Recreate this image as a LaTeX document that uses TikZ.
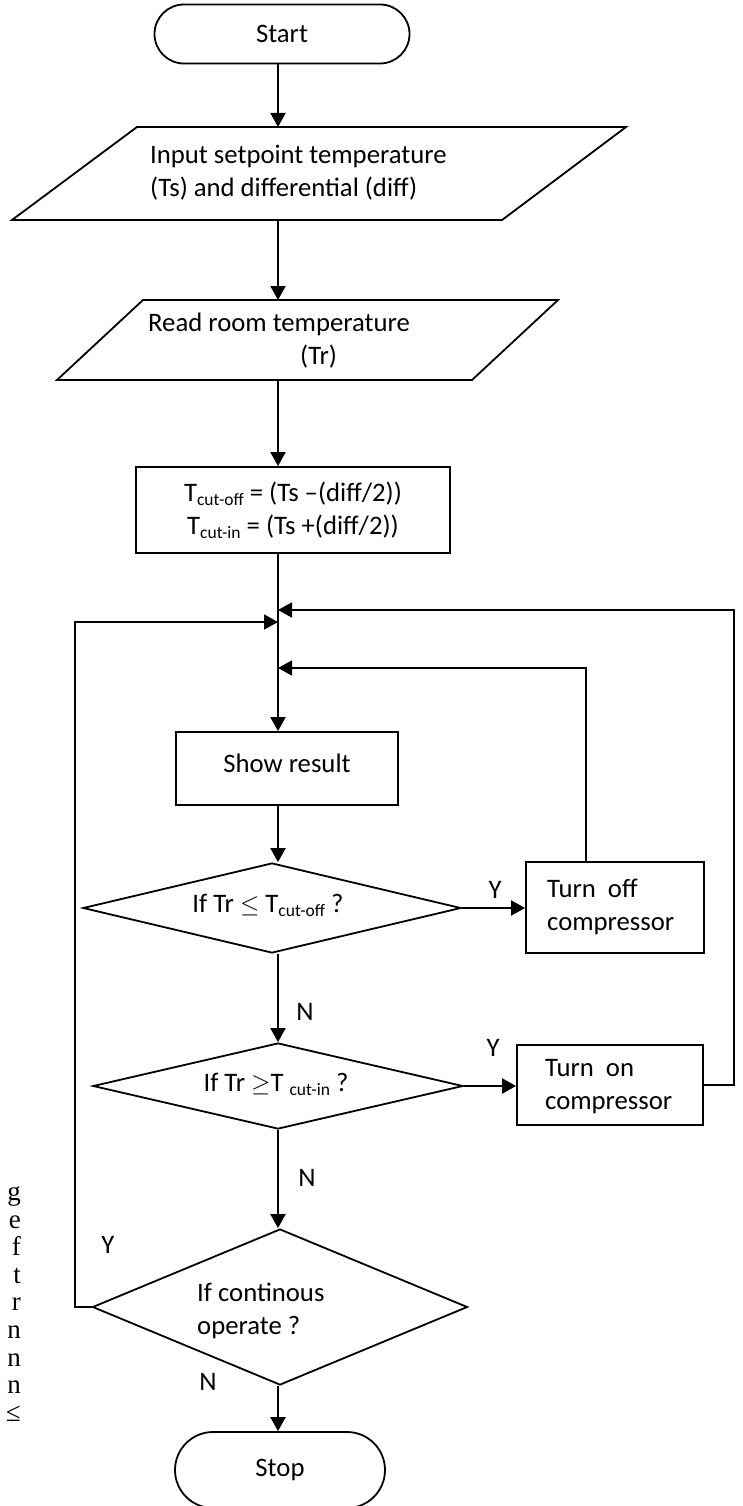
\documentclass[tikz,border=0pt]{standalone}
\usepackage{fontspec}
\setmainfont{Carlito}
\newfontfamily\edgefont{Liberation Serif}
\usetikzlibrary{shapes.geometric,shapes.misc,arrows.meta}
\newcommand{\sbs}[1]{\raisebox{-0.15em}{\fontsize{17.5}{17.5}\selectfont #1}}
\begin{document}
\begin{tikzpicture}[x=1pt,y=-1pt,
  every node/.style={font=\fontsize{26.7}{33}\selectfont, inner sep=0pt},
  shapeline/.style={draw, line width=1.8pt},
  term/.style={shapeline, rounded rectangle},
  procbox/.style={shapeline, rectangle},
  decision/.style={shapeline, diamond},
  arr/.style={line width=2pt, -{Triangle[length=14pt,width=15pt]}},
  loopline/.style={line width=1.7pt, -{Triangle[length=14pt,width=15pt]}},
  lbl/.style={font=\fontsize{26.7}{33}\selectfont},
  edge/.style={font=\edgefont\fontsize{27}{27.6}\selectfont, anchor=east, align=right}]
\useasboundingbox (0,0) rectangle (742,1506);
\fill[white] (0,0) rectangle (742,1506);
% main trunk reference and loop x positions
\coordinate (m) at (278,0);
\coordinate (xl) at (75,0);
\coordinate (xr) at (734,0);
\coordinate (xi) at (586,0);
% terminator
\node[term, minimum width=255pt, minimum height=59pt] (start) at (282,34) {Start};
% parallelogram 1
\draw[shapeline] (137,127) -- (626,127) -- (502,220) -- (12,220) -- cycle;
\coordinate (p1t) at (278,127);
\coordinate (p1b) at (278,220);
\node[anchor=west, align=left] (p1) at (150,173) {Input setpoint temperature\\(Ts) and differential (diff)};
% parallelogram 2
\draw[shapeline] (143,300) -- (558,300) -- (472,380) -- (57,380) -- cycle;
\coordinate (p2t) at (278,300);
\coordinate (p2b) at (278,380);
\node[anchor=west, align=left] (p2) at (148,341) {Read room temperature\\\hspace*{152pt}(Tr)};
% computation box
\node[procbox, minimum width=314pt, minimum height=86pt, align=center] (tbox) at (293,510)
  {T\sbs{cut-off} = (Ts \textendash(diff/2))\\T\sbs{cut-in} = (Ts +(diff/2))};
% junctions
\coordinate (jo) at (278,610);
\coordinate (jl) at (278,622);
\coordinate (ji) at (278,668);
% show result
\node[procbox, minimum width=222pt, minimum height=73pt] (sr) at (287,768.5) {};
\node (srt) at (287,763) {Show result};
% decision 1
\node[decision, minimum width=378pt, minimum height=90pt] (d1) at (272,908) {};
\node (d1t) at (268,905) {If Tr $\leq$ T\sbs{cut-off} ?};
% turn off
\node[procbox, minimum width=178pt, minimum height=91pt] (off) at (615,907.5) {};
\node[anchor=west, align=left] (offt) at (547,907) {Turn\ \ off\\compressor};
% decision 2
\node[decision, minimum width=370pt, minimum height=86pt] (d2) at (278,1086) {};
\node (d2t) at (276,1084) {If Tr $\geq$T \sbs{cut-in} ?};
% turn on
\node[procbox, minimum width=186pt, minimum height=80pt] (on) at (610,1085) {};
\node[anchor=west, align=left] (ont) at (545,1087) {Turn\ \ on\\compressor};
% decision 3
\node[decision, minimum width=375pt, minimum height=156pt] (d3) at (280,1307) {};
\node[anchor=west, align=left] (d3t) at (197,1311) {If continous\\operate ?};
% stop
\node[term, minimum width=210pt, minimum height=76pt] (stop) at (280,1470) {Stop};
% labels
\node[lbl] (y1) at (495,890) {Y};
\node[lbl] (n1) at (305,1012) {N};
\node[lbl] (y2) at (493,1048) {Y};
\node[lbl] (n2) at (307,1178) {N};
\node[lbl] (y3) at (108,1245) {Y};
\node[lbl] (n3) at (208,1382) {N};
% connectors
\draw[arr] (start.south -| m) -- (p1t);
\draw[arr] (p1b) -- (p2t);
\draw[arr] (p2b) -- (tbox.north -| m);
\draw[arr] (tbox.south -| m) -- (sr.north -| m);
\draw[arr] (sr.south -| m) -- (d1.north -| m);
\draw[arr] (d1.east) -- (off.west |- d1.east);
\draw[arr] (d1.south -| m) -- (d2.north -| m);
\draw[arr] (d2.east) -- (on.west |- d2.east);
\draw[arr] (d2.south -| m) -- (d3.north -| m);
\draw[arr] (d3.south -| m) -- (stop.north -| m);
\draw[loopline] (d3.west) -- (d3.west -| xl) |- (jl);
\draw[loopline] (on.east) -- (on.east -| xr) |- (jo);
\draw[loopline] (off.north -| xi) |- (ji);
% cut-off page text at left edge
\node[edge] (edgetext) at (21,1304) {g\\e\\f\\t\\r\\n\\n\\n\\≤};
\end{tikzpicture}
\end{document}
